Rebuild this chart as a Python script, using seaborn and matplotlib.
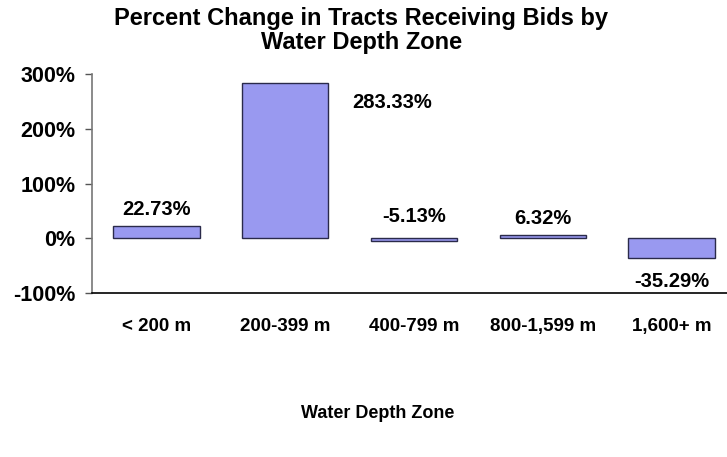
import numpy as np
import pandas as pd
import matplotlib
matplotlib.use("Agg")
import matplotlib.pyplot as plt
import seaborn as sns

# data
zones = ["< 200 m", "200-399 m", "400-799 m", "800-1,599 m", "1,600+ m"]
pct_change = [22.73, 283.33, -5.13, 6.32, -35.29]
value_labels = ["22.73%", "283.33%", "-5.13%", "6.32%", "-35.29%"]
y_ticks = [-100, 0, 100, 200, 300]

df = pd.DataFrame({"zone": zones, "pct": pct_change})

sns.set_theme(style="white")
plt.rcParams["font.family"] = ["Liberation Sans", "DejaVu Sans"]
plt.rcParams["font.weight"] = "bold"
plt.rcParams["text.color"] = "black"
plt.rcParams["xtick.color"] = "black"
plt.rcParams["ytick.color"] = "black"

fig = plt.figure(figsize=(7.27, 4.57), dpi=100)
ax = fig.add_axes([92 / 727, 1 - 293 / 457, 644 / 727, (293 - 74) / 457])

sns.barplot(data=df, x="zone", y="pct", color="#9999f0", saturation=1,
            width=0.67, edgecolor="#2a2a4a", linewidth=1, ax=ax)

ax.set_ylim(-100, 300)
ax.set_xlim(-0.5, 4.5)
ax.set_yticks(y_ticks)
ax.set_yticklabels([f"{t}%" for t in y_ticks])
ax.tick_params(axis="y", length=5, width=1, color="#555555", labelsize=15.5,
               labelcolor="black", pad=7, direction="out", left=True)
ax.tick_params(axis="x", length=0, labelsize=13.5, labelcolor="black", pad=18)
for lbl in ax.get_xticklabels() + ax.get_yticklabels():
    lbl.set_fontweight("bold")

for s in ["top", "right"]:
    ax.spines[s].set_visible(False)
ax.spines["left"].set_color("#777777")
ax.spines["left"].set_linewidth(1.2)
ax.spines["bottom"].set_color("black")
ax.spines["bottom"].set_linewidth(1.2)

# value labels (offsets in points)
offsets = [(0, 12), (77, -14), (0, 16), (0, 12), (0, -17)]
for i, (v, txt) in enumerate(zip(pct_change, value_labels)):
    base = max(v, 0) if i != 4 else v
    ax.annotate(txt, (i, base), xytext=offsets[i], textcoords="offset points",
                ha="center", va="center", fontsize=14.5, fontweight="bold",
                color="black")

ax.set_xlabel("Water Depth Zone", fontsize=13, fontweight="bold", color="black")
ax.xaxis.set_label_coords((378 - 92) / 644, (293 - 413) / 219)
ax.xaxis.label.set_va("center")
ax.set_ylabel("")
fig.suptitle("Percent Change in Tracts Receiving Bids by\nWater Depth Zone",
             fontsize=17, fontweight="bold", y=0.984, x=0.497, linespacing=1.05,
             color="black")

fig.savefig("out.png", dpi=100)
